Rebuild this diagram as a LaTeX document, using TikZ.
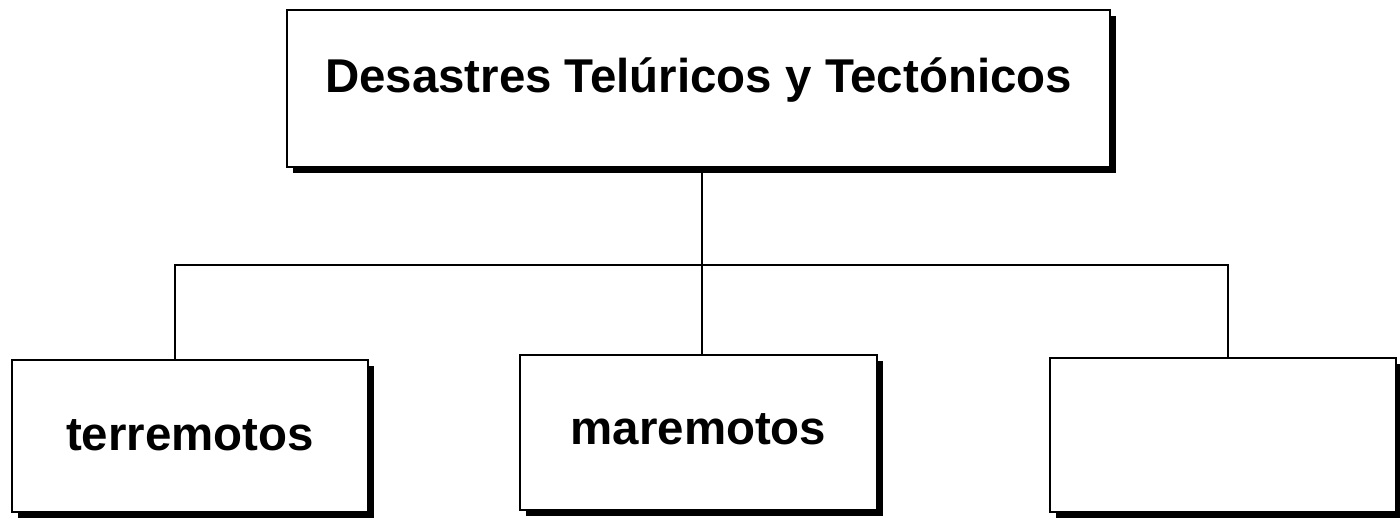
\documentclass[tikz,border=0pt]{standalone}
\usepackage{fontspec}
\setmainfont{Liberation Sans}
\usepackage{tikz}
\usetikzlibrary{positioning,shadows}

\begin{document}
\begin{tikzpicture}[x=0.02cm, y=-0.02cm]
        % Estilos
        \tikzstyle{box} = [rectangle, draw=black, line width=1.6pt, fill=white, inner sep=0pt, text height=0.6cm, text depth=0.1cm, font=\fontsize{27}{32}\selectfont\bfseries, drop shadow={shadow xshift=0.12cm, shadow yshift=-0.12cm, fill=black, opacity=1}]
        \tikzstyle{line} = [line width=1pt]

        \useasboundingbox (0,0) rectangle (1400,523);

        % Cajas
        \node (top) [box, minimum width=16.46cm, minimum height=3.14cm, text depth=0.45cm] at (698.5,88.5) {Desastres Telúricos y Tectónicos};
        \node (lft) [box, minimum width=7.12cm, minimum height=3.04cm, text depth=0.02cm] at (190,436) {terremotos};
        \node (mid) [box, minimum width=7.14cm, minimum height=3.1cm] at (698.5,432.5) {maremotos};
        \node (rgt) [box, minimum width=6.92cm, minimum height=3.08cm] at (1223,435) {};

        % Lineas
        \coordinate (jl) at (175,265);
        \coordinate (jm) at (702,265);
        \coordinate (jr) at (1228,265);
        \draw [line] (top.south -| jm) -- (mid.north -| jm);
        \draw [line] (lft.north -| jl) -- (jl) -- (jr) -- (rgt.north -| jr);

    \end{tikzpicture}
\end{document}
